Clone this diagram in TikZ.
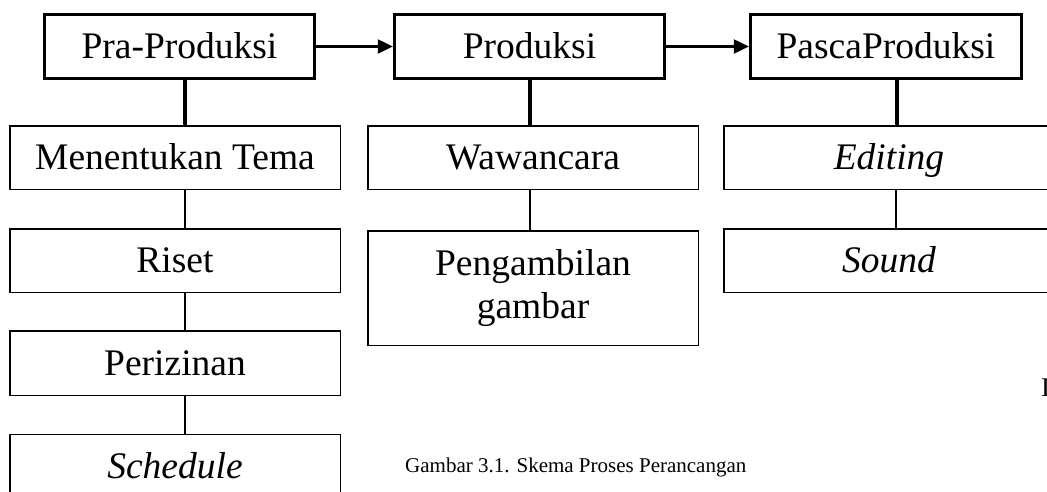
\documentclass[tikz,border=0pt]{standalone}
\usepackage{fontspec}
\setmainfont{Liberation Serif}
\usetikzlibrary{arrows.meta}
\tikzset{
  mainbox/.style={draw, line width=3.3pt, minimum width=270pt, minimum height=64pt, inner sep=0pt, text height=24.8pt, text depth=0pt, font=\fontsize{37.5}{45}\selectfont},
  subbox/.style={draw, line width=1.5pt, minimum width=330.5pt, minimum height=63.5pt, inner sep=0pt, align=center, text height=24.8pt, text depth=0pt, font=\fontsize{37.5}{43}\selectfont},
  thickline/.style={line width=3.3pt},
  thinline/.style={line width=1.4pt},
  flow/.style={line width=2.1pt, -{Triangle[length=15pt,width=14pt]}},
}
\begin{document}
\begin{tikzpicture}[x=1pt,y=-1pt]
\useasboundingbox (0,0) rectangle (1047,491);
\clip (0,0) rectangle (1047,491);
% top row
\node[mainbox] (pra) at (179.5,46.5) {Pra-Produksi};
\node[mainbox] (prod) at (529.5,46.5) {Produksi};
\node[mainbox, minimum width=271pt] (pasca) at (886,46.5) {PascaProduksi};
\draw[flow] (pra.east) -- (prod.west);
\draw[flow] (prod.east) -- (pasca.west);
% column 1
\node[subbox] (tema) at (175,157.5) {Menentukan Tema};
\node[subbox] (riset) at (175,260.5) {Riset};
\node[subbox, minimum height=64.5pt] (izin) at (175,363) {Perizinan};
\node[subbox] (sched) at (175,466) {\itshape Schedule};
% column 2
\node[subbox] (waw) at (533,157.5) {Wawancara};
\node[subbox, minimum height=114.5pt, text height=67.8pt, text depth=7.6pt] (ambil) at (533,288) {Pengambilan\\gambar};
% column 3
\node[subbox] (edit) at (889,157.5) {\itshape Editing};
\node[subbox] (sound) at (889,260.5) {\itshape Sound};
% connectors
\draw[thickline] (pra.south -| 185,0) -- (tema.north -| 185,0);
\draw[thickline] (prod.south -| 530,0) -- (waw.north -| 530,0);
\draw[thickline] (pasca.south -| 897,0) -- (edit.north -| 897,0);
\draw[thinline] (tema.south -| 185,0) -- (riset.north -| 185,0);
\draw[thinline] (riset.south -| 185,0) -- (izin.north -| 185,0);
\draw[thinline] (izin.south -| 185,0) -- (sched.north -| 185,0);
\draw[thinline] (waw.south -| 530,0) -- (ambil.north -| 530,0);
\draw[thinline] (edit.south -| 896,0) -- (sound.north -| 896,0);
% caption
\node[anchor=base west, inner sep=0pt, font=\fontsize{21}{25}\selectfont] (cap) at (405,472) {Gambar 3.1. Skema Proses Perancangan};
\node[anchor=base west, inner sep=0pt, font=\fontsize{27}{30}\selectfont] (frag) at (1041,396) {I};
\end{tikzpicture}
\end{document}
